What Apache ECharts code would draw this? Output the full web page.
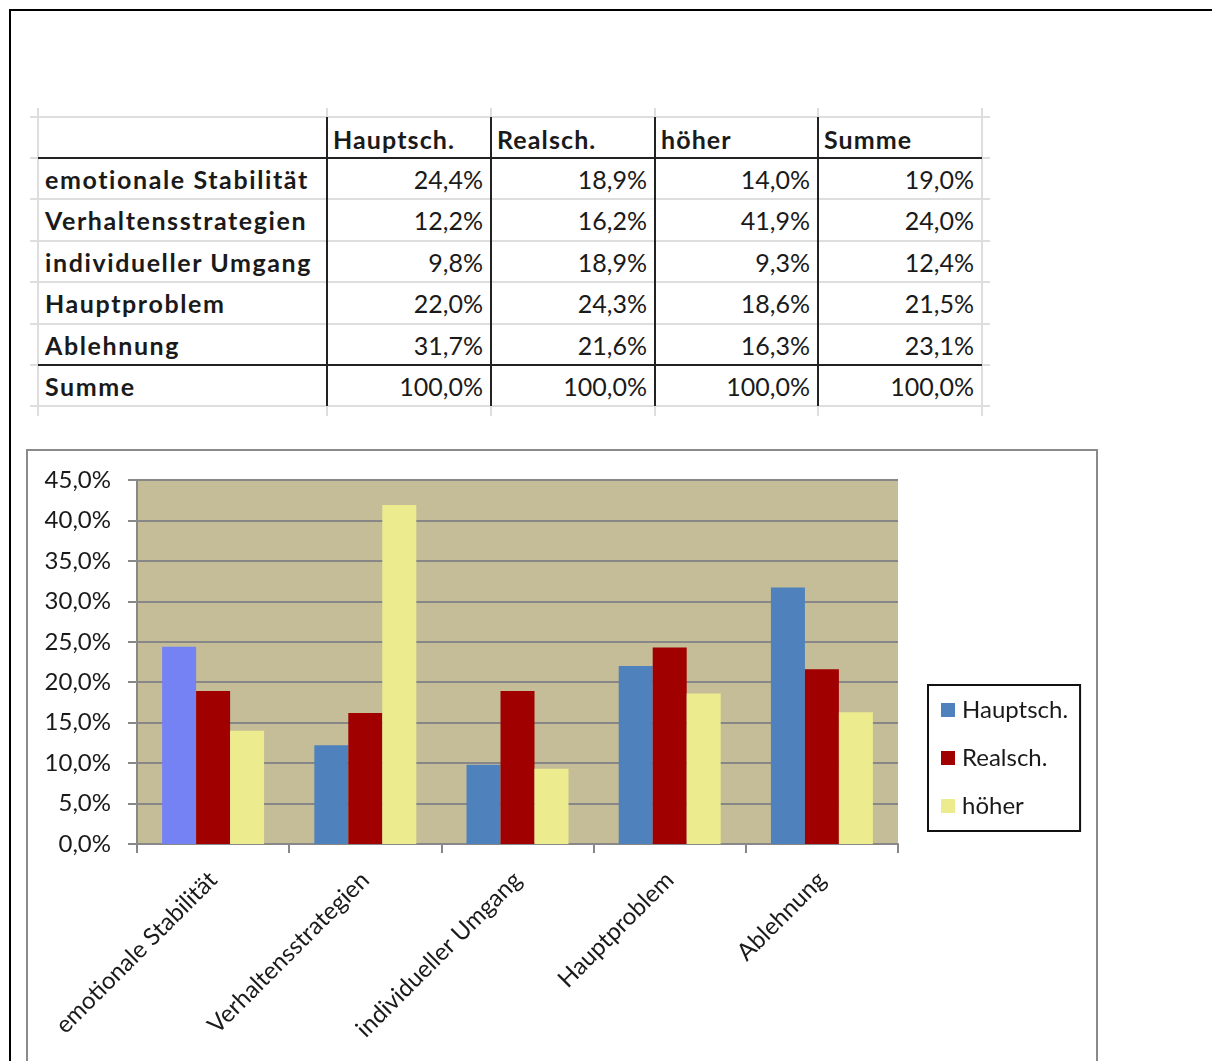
<!DOCTYPE html>
<html>
<head>
<meta charset="utf-8">
<script src="https://cdn.jsdelivr.net/npm/echarts@6/dist/echarts.min.js"></script>
<style>
  html, body { margin: 0; padding: 0; background: #fff; }
  body { width: 1212px; height: 1061px; overflow: hidden; position: relative; font-family: Lato, "Open Sans", sans-serif; }
  #frame { position: absolute; left: 9px; top: 9px; width: 1300px; height: 1200px; border-top: 2px solid #000; border-left: 2px solid #000; }
  #table { position: absolute; left: 0; top: 0; width: 1212px; height: 440px; }
  .ln { position: absolute; }
  .cell { position: absolute; font-size: 25px; color: #1a1a1a; white-space: nowrap; line-height: 41px; }
  .b { font-weight: bold; letter-spacing: 1.6px; }
  .h { letter-spacing: 1.1px; }
  #chart { position: absolute; left: 0; top: 0; width: 1212px; height: 1061px; }
</style>
</head>
<body>
<div id="frame"></div>
<div id="table"></div>
<div id="chart"></div>
<script>
// Anteile je Schulform (in %)
const categories = ['emotionale Stabilität', 'Verhaltensstrategien', 'individueller Umgang', 'Hauptproblem', 'Ablehnung'];
const seriesNames = ['Hauptsch.', 'Realsch.', 'höher'];
const hauptsch = [24.4, 12.2, 9.8, 22.0, 31.7];
const realsch  = [18.9, 16.2, 18.9, 24.3, 21.6];
const hoeher   = [14.0, 41.9, 9.3, 18.6, 16.3];
const summe    = [19.0, 24.0, 12.4, 21.5, 23.1];
const totals   = [100.0, 100.0, 100.0, 100.0];
const tableHeader = ['', 'Hauptsch.', 'Realsch.', 'höher', 'Summe'];
const totalLabel = 'Summe';
const yMin = 0, yMax = 45, yStep = 5;

const fmt = v => v.toFixed(1).replace('.', ',') + '%';

// ---------- Tabelle ----------
(function buildTable() {
  const host = document.getElementById('table');
  const colX = [38, 327, 491, 655, 818, 982];
  const rowY = [117, 158, 199.4, 240.8, 282.2, 323.6, 365, 406];
  const add = (cls, css, text) => {
    const d = document.createElement('div');
    d.className = cls;
    Object.assign(d.style, css);
    if (text !== undefined) d.textContent = text;
    host.appendChild(d);
    return d;
  };
  // helle Gitterlinien
  rowY.forEach(y => add('ln', { left: '30px', top: (y - 1) + 'px', width: '960px', height: '2px', background: '#dedede' }));
  colX.forEach(x => add('ln', { left: (x - 1) + 'px', top: '108px', width: '2px', height: '308px', background: '#dedede' }));
  // kräftige Linien
  colX.slice(1, 5).forEach(x => add('ln', { left: (x - 1) + 'px', top: '117px', width: '2px', height: '289px', background: '#222' }));
  [rowY[1], rowY[6]].forEach(y => add('ln', { left: '38px', top: (y - 1) + 'px', width: '944px', height: '2px', background: '#222' }));

  // Kopfzeile
  tableHeader.forEach((h, c) => {
    if (!h) return;
    add('cell b h', { left: (colX[c] + 6) + 'px', top: (rowY[0] + 2) + 'px' }, h);
  });
  // Datenzeilen
  const cols = [hauptsch, realsch, hoeher, summe];
  const rows = categories.map((name, i) => [name, ...cols.map(a => a[i])]);
  rows.push([totalLabel, ...totals]);
  rows.forEach((r, i) => {
    const y = rowY[i + 1] + 1;
    add('cell b', { left: '45px', top: y + 'px' }, r[0]);
    for (let c = 1; c <= 4; c++) {
      add('cell', { left: colX[c] + 'px', top: y + 'px', width: (colX[c + 1] - colX[c] - 8) + 'px', textAlign: 'right' }, fmt(r[c]));
    }
  });
})();

// ---------- Diagramm ----------
const colors = ['#4F81BD', '#A00000', '#ECEC8E'];
const firstBarColor = '#7482F4';

const chart = echarts.init(document.getElementById('chart'), null, { renderer: 'canvas' });
const valueSets = [hauptsch, realsch, hoeher];

chart.setOption({
  animation: false,
  textStyle: { fontFamily: 'Lato, "Open Sans", sans-serif' },
  graphic: [{
    type: 'rect', z: -10,
    shape: { x: 27, y: 450, width: 1070, height: 700 },
    style: { fill: '#fff', stroke: '#8a8a8a', lineWidth: 2 }
  }],
  grid: {
    left: 137, top: 480, width: 761, height: 364,
    show: true, backgroundColor: '#C4BD97', borderWidth: 0
  },
  legend: {
    orient: 'vertical', left: 928, top: 685,
    data: seriesNames,
    icon: 'rect', itemWidth: 14, itemHeight: 14, itemGap: 24,
    borderColor: '#111', borderWidth: 2, borderRadius: 0,
    padding: [13, 12, 13, 13],
    textStyle: { fontSize: 24, color: '#1a1a1a', lineHeight: 24, padding: [0, 0, 0, 2], fontFamily: 'Lato, "Open Sans", sans-serif' }
  },
  xAxis: {
    type: 'category', data: categories,
    axisLine: { lineStyle: { color: '#888', width: 2 } },
    axisTick: { show: true, length: 9, lineStyle: { color: '#888', width: 2 } },
    axisLabel: { rotate: 45, fontSize: 24, color: '#1a1a1a', margin: 32, interval: 0 },
    splitLine: { show: false }
  },
  yAxis: {
    type: 'value', min: yMin, max: yMax, interval: yStep,
    axisLine: { show: true, lineStyle: { color: '#888', width: 2 } },
    axisTick: { show: true, length: 9, lineStyle: { color: '#888', width: 2 } },
    axisLabel: { fontSize: 24, color: '#1a1a1a', margin: 26, formatter: v => fmt(v) },
    splitLine: { show: true, lineStyle: { color: '#878787', width: 2 } }
  },
  series: valueSets.map((vals, s) => ({
    type: 'bar',
    name: seriesNames[s],
    barGap: '0%',
    barCategoryGap: '33%',
    itemStyle: { color: colors[s] },
    data: vals.map((v, i) => (s === 0 && i === 0)
      ? { value: v, itemStyle: { color: firstBarColor } }
      : v)
  }))
});
</script>
</body>
</html>
